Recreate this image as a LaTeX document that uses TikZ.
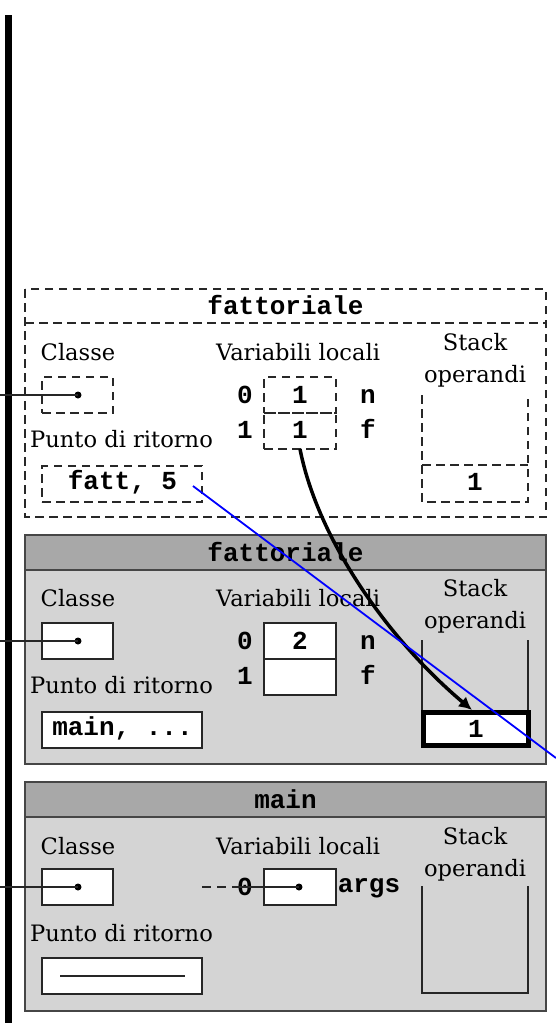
\documentclass[tikz,border=0pt]{standalone}
\usepackage{fontspec}
\setmainfont{DejaVu Serif}
\setmonofont{Liberation Mono}
\usetikzlibrary{arrows.meta}
\definecolor{barfill}{RGB}{168,168,168}
\definecolor{bodyfill}{RGB}{212,212,212}
\definecolor{framecol}{RGB}{70,70,70}
\definecolor{dashcol}{RGB}{40,40,40}
\begin{document}
\begin{tikzpicture}[x=1pt,y=-1pt,
  lbl/.style={font=\fontsize{22.6}{26}\selectfont, inner sep=0pt, anchor=base},
  code/.style={font=\fontsize{26}{30}\selectfont\ttfamily\bfseries, inner sep=0pt, anchor=base},
  dline/.style={draw=dashcol, line width=1.3pt, dash pattern=on 8.5pt off 5.5pt},
  dbox/.style={dline, inner sep=0pt, outer sep=0pt},
  wbox/.style={draw=black!85, fill=white, line width=1.3pt, inner sep=0pt, outer sep=0pt},
  ptrline/.style={line width=1.2pt, draw=black!85},
  pdot/.style={circle, fill=black, inner sep=0pt, minimum size=7pt},
  gframe/.style={draw=framecol, line width=1.3pt},
  thinline/.style={line width=1.2pt, draw=black!85},
]
\useasboundingbox (0,0) rectangle (556,1023);

% thick bar
\coordinate (bar0) at (8.5,15);
\coordinate (bar1) at (8.5,1023);
\draw[line width=7pt] (bar0) -- (bar1);

% ---------------- Frame 1 (dashed) ----------------
\begin{scope}[yshift=-289pt]
  \draw[dline] (25,0) rectangle (546,228);
  \draw[dline] (25,34) -- (546,34);
  \node[code] (t1) at (285.5,25) {fattoriale};
  \node[lbl] (cl1) at (78,71) {Classe};
  \node[lbl] (vl1) at (298,71) {Variabili locali};
  \node[lbl] (st1) at (475,61) {Stack};
  \node[lbl] (op1) at (475,93) {operandi};
  \node[dbox, minimum width=71pt, minimum height=36pt] (cb1) at (77.5,106) {};
  \node[pdot] (d1) at (78,106) {};
  \coordinate (p1) at (0,106);
  \node[lbl] (pr1) at (121.5,158) {Punto di ritorno};
  \node[dbox, minimum width=160pt, minimum height=36pt] (rb1) at (122,195) {};
  \node[code] (rt1) at (122.5,200) {fatt, 5};
  \node[dbox, minimum width=72pt, minimum height=36pt] (v10) at (300,106) {};
  \node[dbox, minimum width=72pt, minimum height=36pt] (v11) at (300,142) {};
  \node[code] (v10t) at (300,114) {1};
  \node[code] (v11t) at (300,149) {1};
  \node[code] (i10) at (245,114) {0};
  \node[code] (i11) at (245,149) {1};
  \node[code] (n1) at (368,114) {n};
  \node[code] (f1) at (368,149) {f};
  \coordinate (s1a) at (422,106);
  \coordinate (s1b) at (422,213);
  \coordinate (s1c) at (528,213);
  \coordinate (s1d) at (528,106);
  \draw[dline] (s1a) -- (s1b) -- (s1c) -- (s1d);
  \coordinate (s1e) at (422,176);
  \coordinate (s1f) at (528,176);
  \draw[dline] (s1e) -- (s1f);
  \node[code] (s1v) at (475,201) {1};
  \coordinate (b0) at (193,197);
\end{scope}
\draw[ptrline] (p1) -- (d1.center);

% ---------------- Frame 2 (grey) ----------------
\begin{scope}[yshift=-535pt]
  \fill[bodyfill] (25,0) rectangle (546,229);
  \fill[barfill] (25,0) rectangle (546,35);
  \draw[gframe] (25,0) rectangle (546,229);
  \draw[gframe] (25,35) -- (546,35);
  \node[code] (t2) at (285.5,26) {fattoriale};
  \node[lbl] (cl2) at (78,71) {Classe};
  \node[lbl] (vl2) at (298,71) {Variabili locali};
  \node[lbl] (st2) at (475,61) {Stack};
  \node[lbl] (op2) at (475,93) {operandi};
  \node[wbox, minimum width=71pt, minimum height=36pt] (cb2) at (77.5,106) {};
  \node[pdot] (d2) at (78,106) {};
  \coordinate (p2) at (0,106);
  \node[lbl] (pr2) at (121.5,158) {Punto di ritorno};
  \node[wbox, minimum width=160pt, minimum height=36pt] (rb2) at (122,195) {};
  \node[code] (rt2) at (122.5,200) {main, ...};
  \node[wbox, minimum width=72pt, minimum height=36pt] (v20) at (300,106) {};
  \node[wbox, minimum width=72pt, minimum height=36pt] (v21) at (300,142) {};
  \node[code] (v20t) at (300,114) {2};
  \node[code] (i20) at (245,114) {0};
  \node[code] (i21) at (245,149) {1};
  \node[code] (n2) at (368,114) {n};
  \node[code] (f2) at (368,149) {f};
  \coordinate (s2a) at (422,105);
  \coordinate (s2b) at (422,177);
  \coordinate (s2c) at (528,105);
  \coordinate (s2d) at (528,177);
  \draw[thinline] (s2a) -- (s2b);
  \draw[thinline] (s2c) -- (s2d);
  \node[draw=black, fill=white, line width=5pt, minimum width=105pt, minimum height=33pt, inner sep=0pt] (sk2) at (476,194) {};
  \node[code] (s2v) at (476,202) {1};
\end{scope}
\draw[ptrline] (p2) -- (d2.center);

% ---------------- Frame 3 (grey, main) ----------------
\begin{scope}[yshift=-782pt]
  \fill[bodyfill] (25,0) rectangle (546,229);
  \fill[barfill] (25,0) rectangle (546,35);
  \draw[gframe] (25,0) rectangle (546,229);
  \draw[gframe] (25,35) -- (546,35);
  \node[code] (t3) at (285.5,26) {main};
  \node[lbl] (cl3) at (78,72) {Classe};
  \node[lbl] (vl3) at (298,72) {Variabili locali};
  \node[lbl] (st3) at (475,62) {Stack};
  \node[lbl] (op3) at (475,94) {operandi};
  \node[wbox, minimum width=71pt, minimum height=36pt] (cb3) at (77.5,105) {};
  \node[pdot] (d3) at (78,105) {};
  \coordinate (p3) at (0,105);
  \node[lbl] (pr3) at (121.5,159) {Punto di ritorno};
  \node[wbox, minimum width=160pt, minimum height=36pt] (rb3) at (122,194) {};
  \coordinate (rl0) at (60,194);
  \coordinate (rl1) at (185,194);
  \draw[thinline] (rl0) -- (rl1);
  \node[wbox, minimum width=72pt, minimum height=36pt] (v30) at (300,105) {};
  \node[pdot] (d30) at (299,105) {};
  \coordinate (a0) at (202,105);
  \coordinate (a1) at (238,105);
  \node[code] (i30) at (245,113) {0};
  \draw[thinline, dash pattern=on 9pt off 6pt] (a0) -- (a1);
  \draw[thinline] (a1) -- (d30.center);
  \node[code] (ar3) at (369,110) {args};
  \coordinate (s3a) at (422,104);
  \coordinate (s3b) at (422,211);
  \coordinate (s3c) at (528,211);
  \coordinate (s3d) at (528,104);
  \draw[thinline] (s3a) -- (s3b) -- (s3c) -- (s3d);
\end{scope}
\draw[ptrline] (p3) -- (d3.center);

% curved arrow
\draw[line width=3.5pt, -{Latex[length=13pt,width=13pt]}] (v11.south) .. controls +(18,92) and +(-82,-69) .. ([xshift=-4pt]sk2.north);

% blue line
\coordinate (b1) at (556,758);
\draw[blue, line width=1.8pt] (b0) -- (b1);
\end{tikzpicture}
\end{document}
